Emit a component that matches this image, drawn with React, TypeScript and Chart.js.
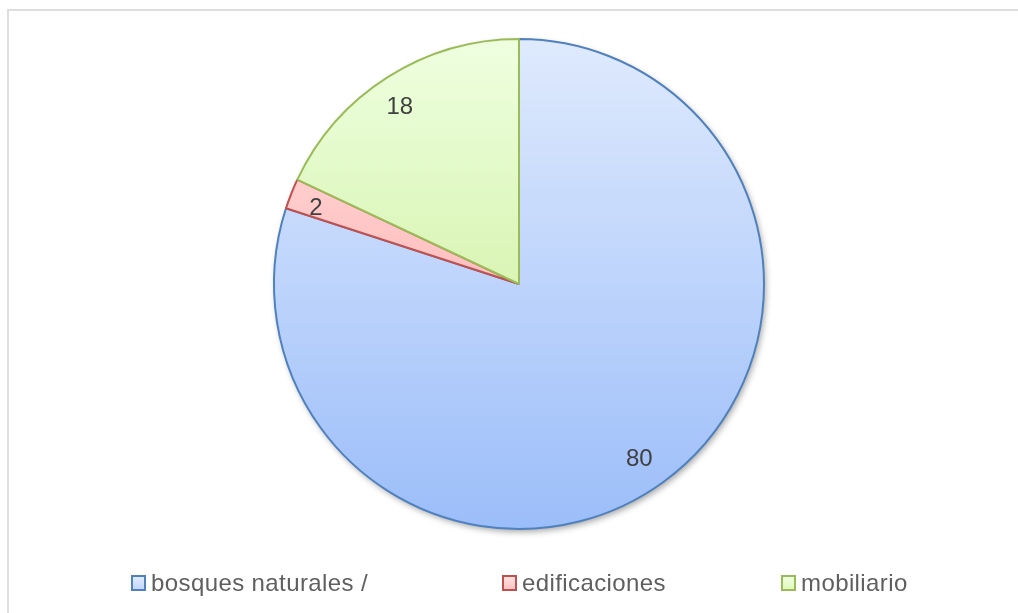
import React, { useEffect, useRef } from "react";
import { Chart, registerables } from "chart.js";

Chart.register(...registerables);

const categories = ["bosques naturales /", "edificaciones", "mobiliario"];
const values = [80, 2, 18];
const gradientTops = ["#dfeafd", "#ffe0e0", "#eeffe0"];
const gradientBottoms = ["#9bbdf9", "#ff9e9e", "#c4ea88"];
const borderColors = ["#4f81bd", "#c0504d", "#9bbb59"];
const legendFills = ["#c3d7fb", "#ffc4c4", "#e0f8bd"];
const legendLefts = [131, 502, 781];

const FONT = '"Liberation Sans", Arial, sans-serif';

const shadowPlugin = {
  id: "pieShadow",
  beforeDatasetsDraw(chart: any) {
    const meta = chart.getDatasetMeta(0);
    const arc = meta.data[0];
    if (!arc) return;
    const ctx = chart.ctx;
    ctx.save();
    ctx.shadowColor = "rgba(0,0,0,0.35)";
    ctx.shadowBlur = 6;
    ctx.shadowOffsetX = 2;
    ctx.shadowOffsetY = 3;
    ctx.beginPath();
    ctx.arc(arc.x, arc.y, arc.outerRadius, 0, Math.PI * 2);
    ctx.fillStyle = "#ffffff";
    ctx.fill();
    ctx.restore();
  },
};

const labelPlugin = {
  id: "sliceLabels",
  afterDatasetsDraw(chart: any) {
    const meta = chart.getDatasetMeta(0);
    const ctx = chart.ctx;
    ctx.save();
    ctx.font = `24px ${FONT}`;
    ctx.fillStyle = "#404040";
    ctx.textAlign = "center";
    ctx.textBaseline = "middle";
    meta.data.forEach((arc: any, i: number) => {
      const mid = (arc.startAngle + arc.endAngle) / 2;
      const r = arc.outerRadius * 0.87;
      const x = arc.x + Math.cos(mid) * r - 5;
      const y = arc.y + Math.sin(mid) * r + 3;
      ctx.fillText(String(chart.data.datasets[0].data[i]), x, y);
    });
    ctx.restore();
  },
};

export default function App() {
  const canvasRef = useRef<HTMLCanvasElement | null>(null);

  useEffect(() => {
    if (!canvasRef.current) return;
    const makeFill = (i: number) => (c: any) => {
      const area = c.chart.chartArea;
      if (!area) return legendFills[i];
      const g = c.chart.ctx.createLinearGradient(0, area.top, 0, area.bottom);
      g.addColorStop(0, gradientTops[i]);
      g.addColorStop(1, gradientBottoms[i]);
      return g;
    };
    const chart = new Chart(canvasRef.current, {
      type: "pie",
      data: {
        labels: categories,
        datasets: [
          {
            data: values,
            backgroundColor: (c: any) => makeFill(c.dataIndex)(c),
            borderColor: borderColors,
            borderWidth: 2,
          },
        ],
      },
      options: {
        responsive: false,
        animation: false,
        layout: { padding: { top: 38, bottom: 83, left: 20, right: 0 } },
        plugins: {
          legend: { display: false },
          tooltip: { enabled: false },
        },
      },
      plugins: [shadowPlugin, labelPlugin],
    });
    return () => chart.destroy();
  }, []);

  return (
    <div
      style={{
        position: "absolute",
        left: 0,
        top: 0,
        width: 1018,
        height: 613,
        overflow: "hidden",
        background: "#ffffff",
      }}
    >
      <div
        style={{
          position: "absolute",
          left: 7,
          top: 9,
          width: 1040,
          height: 640,
          border: "2px solid #dedede",
        }}
      />
      <canvas
        ref={canvasRef}
        width={1018}
        height={613}
        style={{ position: "absolute", left: 0, top: 0 }}
      />
      {categories.map((name, i) => (
        <div
          key={name}
          style={{
            position: "absolute",
            left: legendLefts[i],
            top: 569,
            height: 28,
            display: "flex",
            alignItems: "center",
            fontFamily: FONT,
            fontSize: 24,
            lineHeight: "28px",
            letterSpacing: "0.4px",
            color: "#5f5f5f",
            whiteSpace: "nowrap",
          }}
        >
          <span
            style={{
              display: "inline-block",
              width: 11,
              height: 12,
              border: `2px solid ${borderColors[i]}`,
              background: `linear-gradient(${gradientTops[i]}, ${legendFills[i]})`,
              marginRight: 5,
            }}
          />
          <span>{name}</span>
        </div>
      ))}
    </div>
  );
}
